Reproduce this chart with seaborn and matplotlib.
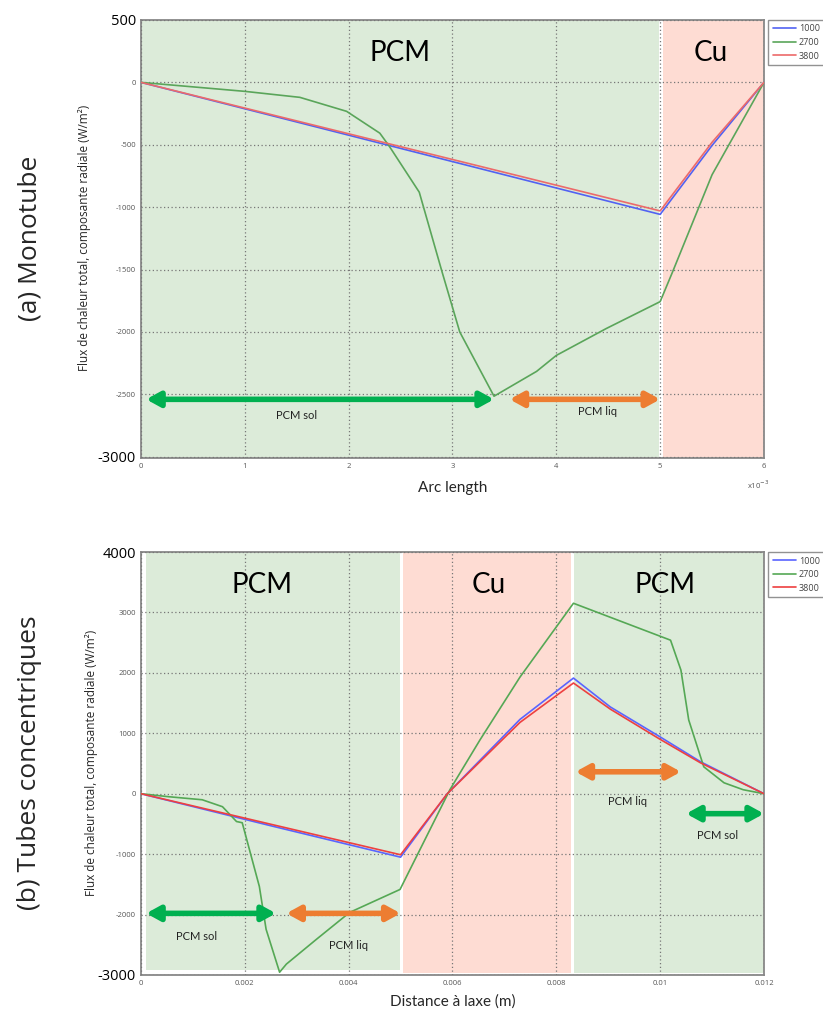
import numpy as np
import pandas as pd
import matplotlib
matplotlib.use('Agg')
import matplotlib.pyplot as plt
import seaborn as sns

sns.set_style('white')
plt.rcParams['font.family'] = ['Open Sans', 'DejaVu Sans']

# ---- (a) Monotube : arc length in units of 1e-3 m
series_labels = ['1000', '2700', '3800']

mono_x_1000 = [0, 2.5, 5.0, 5.5, 6.0]
mono_y_1000 = [0, -529, -1058, -505, 0]
mono_x_3800 = [0, 2.5, 5.0, 5.5, 6.0]
mono_y_3800 = [0, -515, -1030, -480, 0]
mono_x_2700 = [0, 1.0, 1.53, 1.98, 2.30, 2.39, 2.68, 2.90, 3.07, 3.40, 3.81,
               4.0, 4.48, 5.0, 5.12, 5.5, 6.0]
mono_y_2700 = [0, -72, -120, -232, -407, -510, -880, -1520, -2000, -2515,
               -2316, -2188, -1973, -1757, -1518, -740, 0]

# ---- (b) Tubes concentriques : distance in m
conc_x_1000 = [0, 0.0025, 0.005, 0.0059, 0.0073, 0.00833, 0.00904, 0.0100,
               0.01078, 0.012]
conc_y_1000 = [0, -530, -1050, 0, 1230, 1914, 1436, 940, 528, 0]
conc_x_3800 = conc_x_1000
conc_y_3800 = [0, -505, -1010, 0, 1180, 1832, 1400, 900, 510, 0]
conc_x_2700 = [0, 0.00054, 0.00118, 0.00157, 0.00184, 0.00195, 0.00228,
               0.00241, 0.00267, 0.0028, 0.00338, 0.00402, 0.00499, 0.00595,
               0.00653, 0.0073, 0.00833, 0.00904, 0.0102, 0.0104, 0.01055,
               0.01084, 0.01123, 0.0116, 0.012]
conc_y_2700 = [0, -50, -100, -215, -460, -480, -1535, -2244, -2954, -2820,
               -2409, -1964, -1584, 66, 891, 1930, 3152, 2920, 2541, 2046,
               1221, 446, 181, 66, 0]


def long_df(xs, ys):
    parts = []
    for lab, x, y in zip(series_labels, xs, ys):
        parts.append(pd.DataFrame({'x': x, 'y': y, 'serie': lab}))
    return pd.concat(parts, ignore_index=True)


df_mono = long_df([mono_x_1000, mono_x_2700, mono_x_3800],
                  [mono_y_1000, mono_y_2700, mono_y_3800])
df_conc = long_df([conc_x_1000, conc_x_2700, conc_x_3800],
                  [conc_y_1000, conc_y_2700, conc_y_3800])

GREEN_BG = '#dcebd9'
PINK_BG = '#fedcd3'
ARR_GREEN = '#00b050'
ARR_ORANGE = '#ed7d31'
region_font = dict(family=['Lato', 'DejaVu Sans'], fontsize=20, color='black',
                   ha='center', va='center')
small_font = dict(family=['Lato', 'DejaVu Sans'], fontsize=8, color='#222222',
                  ha='center', va='center')


def arrow(ax, x0, x1, y, color):
    ax.annotate('', xy=(x1, y), xytext=(x0, y),
                arrowprops=dict(arrowstyle='<|-|>,head_length=0.4,head_width=0.22',
                                color=color, lw=4, mutation_scale=20,
                                shrinkA=0, shrinkB=0),
                zorder=5)


def style_axes(ax, big_ticks):
    ax.grid(True, linestyle=(0, (1, 2)), color='#777777', lw=0.9)
    ax.set_axisbelow(False)
    for s in ax.spines.values():
        s.set_color('#888888')
        s.set_linewidth(1.3)
    ax.tick_params(axis='both', labelsize=5.5, labelcolor='#555555',
                   length=3, direction='in', color='#555555')
    for lab in ax.get_yticklabels():
        if lab.get_text().replace('\u2212', '-') in big_ticks:
            lab.set_fontsize(10.5)
            lab.set_color('black')
    ax.set_xlabel('')
    ax.set_ylabel('')


def legend(ax):
    leg = ax.legend(loc='upper left', bbox_to_anchor=(1.007, 1.0),
                    fontsize=6.5, frameon=True, fancybox=False,
                    handlelength=2.6, borderpad=0.5, labelspacing=0.5,
                    handletextpad=0.3, borderaxespad=0)
    leg.get_frame().set_edgecolor('#777777')
    for t in leg.get_texts():
        t.set_color('#444444')


fig = plt.figure(figsize=(8.23, 10.09), dpi=100)

# ================= (a) =================
ax1 = fig.add_axes([0.1713, 0.5461, 0.757, 0.4341])
ax1.set_facecolor('white')
ax1.axvspan(0, 4.985, color=GREEN_BG, lw=0, zorder=0)
ax1.axvspan(5.03, 6.0, color=PINK_BG, lw=0, zorder=0)
sns.lineplot(data=df_mono, x='x', y='y', hue='serie', sort=False,
             estimator=None, lw=1.2, ax=ax1, zorder=3,
             palette={'1000': '#5262f2', '2700': '#5aa55a', '3800': '#ec6a6a'})
ax1.set_xlim(0, 6)
ax1.set_ylim(-3010, 500)
ax1.set_xticks(np.arange(0, 7, 1))
ax1.set_xticklabels([str(i) for i in range(7)])
ax1.set_yticks(np.arange(-3000, 501, 500))
ax1.set_yticklabels([str(v) for v in range(-3000, 501, 500)])
style_axes(ax1, ['500', '-3000'])
legend(ax1)
ax1.text(2.49, 235, 'PCM', **region_font)
ax1.text(5.49, 235, 'Cu', **region_font)
arrow(ax1, 0.05, 3.4, -2540, ARR_GREEN)
arrow(ax1, 3.55, 5.0, -2540, ARR_ORANGE)
ax1.text(1.5, -2670, 'PCM sol', **small_font)
ax1.text(4.4, -2640, 'PCM liq', **small_font)
ax1.text(0.5, -0.068, 'Arc length', transform=ax1.transAxes,
         family=['Lato', 'DejaVu Sans'], fontsize=11, ha='center', va='center')
ax1.text(0.99, -0.062, 'x10$^{-3}$', transform=ax1.transAxes, fontsize=5.5,
         color='#555555', ha='center', va='center')

# ================= (b) =================
ax2 = fig.add_axes([0.1713, 0.0337, 0.757, 0.4192])
ax2.set_facecolor('white')
ax2.axvspan(0.0001, 0.00499, ymin=0.012, ymax=1, color=GREEN_BG, lw=0,
            zorder=0)
ax2.axvspan(0.00505, 0.00829, ymin=0.005, ymax=1, color=PINK_BG, lw=0,
            zorder=0)
ax2.axvspan(0.00834, 0.012, ymin=0.005, ymax=1, color=GREEN_BG, lw=0,
            zorder=0)
sns.lineplot(data=df_conc, x='x', y='y', hue='serie', sort=False,
             estimator=None, lw=1.2, ax=ax2, zorder=3,
             palette={'1000': '#5a64ff', '2700': '#55a855', '3800': '#ee4040'})
ax2.set_xlim(0, 0.012)
ax2.set_ylim(-3000, 4000)
ax2.set_xticks(np.arange(0, 0.0121, 0.002))
ax2.set_xticklabels(['0', '0.002', '0.004', '0.006', '0.008', '0.01', '0.012'])
ax2.set_yticks(np.arange(-3000, 4001, 1000))
ax2.set_yticklabels([str(v) for v in range(-3000, 4001, 1000)])
style_axes(ax2, ['4000', '-3000'])
legend(ax2)
ax2.text(0.00233, 3460, 'PCM', **region_font)
ax2.text(0.0067, 3460, 'Cu', **region_font)
ax2.text(0.0101, 3460, 'PCM', **region_font)
arrow(ax2, 0.0001, 0.0026, -1980, ARR_GREEN)
arrow(ax2, 0.0028, 0.005, -1980, ARR_ORANGE)
arrow(ax2, 0.00837, 0.0104, 363, ARR_ORANGE)
arrow(ax2, 0.0105, 0.012, -330, ARR_GREEN)
ax2.text(0.00108, -2360, 'PCM sol', **small_font)
ax2.text(0.0040, -2510, 'PCM liq', **small_font)
ax2.text(0.00937, -130, 'PCM liq', **small_font)
ax2.text(0.0111, -690, 'PCM sol', **small_font)
ax2.text(0.5, -0.062, 'Distance \u00e0 laxe (m)', transform=ax2.transAxes,
         family=['Lato', 'DejaVu Sans'], fontsize=11, ha='center', va='center')

# y labels and panel names
ylab = 'Flux de chaleur total, composante radiale (W/m\u00b2)'
fig.text(85 / 823, 1 - 238 / 1009, ylab, rotation=90, fontsize=8.5,
         ha='center', va='center')
fig.text(92 / 823, 1 - 763 / 1009, ylab, rotation=90, fontsize=8.5,
         ha='center', va='center')
fig.text(30 / 823, 1 - 238 / 1009, '(a) Monotube', rotation=90, fontsize=19,
         ha='center', va='center')
fig.text(30 / 823, 1 - 763 / 1009, '(b) Tubes concentriques', rotation=90,
         fontsize=19, ha='center', va='center')

fig.savefig('out.png', dpi=100)
